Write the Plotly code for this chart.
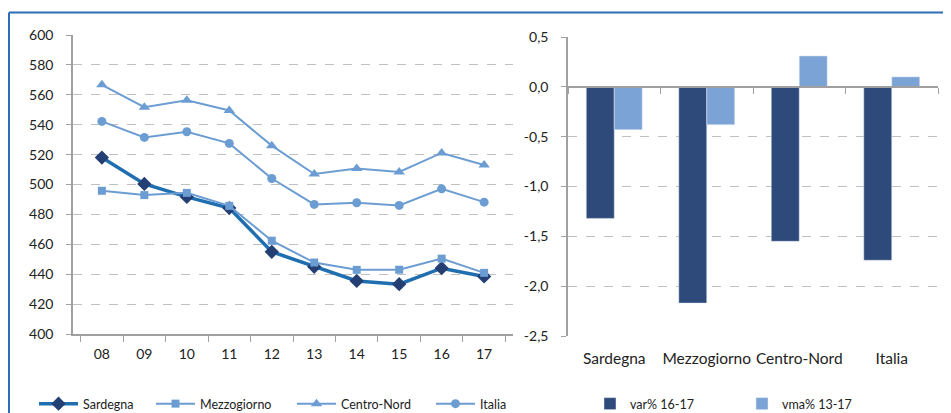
import plotly.graph_objects as go

anni = ["08", "09", "10", "11", "12", "13", "14", "15", "16", "17"]
sardegna = [518, 500.4, 491.7, 484.2, 455, 445, 435.5, 433.3, 444, 438.5]
mezzogiorno = [495.8, 492.9, 494.4, 485.7, 462.4, 447.8, 442.9, 443, 450.4, 440.9]
centro_nord = [566.7, 551.7, 556.4, 549.5, 526, 507, 510.7, 508.4, 521.1, 513.1]
italia = [542.2, 531.5, 535.3, 527.5, 504, 486.7, 487.8, 486, 497.1, 488.2]

aree = ["Sardegna", "Mezzogiorno", "Centro-Nord", "Italia"]
var_16_17 = [-1.32, -2.17, -1.55, -1.74]
vma_13_17 = [-0.43, -0.38, 0.31, 0.1]

y2_vals = [0.5, 0.0, -0.5, -1.0, -1.5, -2.0, -2.5]
y2_text = ["0,5", "0,0", "-0,5", "-1,0", "-1,5", "-2,0", "-2,5"]

# the page body adds an 8px margin, so the figure is drawn 8px smaller
OFF = 8
W, H = 951 - OFF, 413 - OFF
FONT = "Lato, Carlito, Calibri, sans-serif"
LIGHT = "#6c9dd2"
GRID = "#c0c0c0"
AXIS = "#a0a0a0"


def px_x(v):
    return (v - OFF) / W


def px_y(v):
    return (H - (v - OFF)) / H


fig = go.Figure()

fig.add_trace(go.Scatter(
    x=anni, y=sardegna, name="Sardegna", mode="lines+markers",
    line=dict(color="#1f6eb0", width=3.5),
    marker=dict(symbol="diamond", size=11, color="#243f73"),
    legend="legend",
))
fig.add_trace(go.Scatter(
    x=anni, y=mezzogiorno, name="Mezzogiorno", mode="lines+markers",
    line=dict(color=LIGHT, width=2),
    marker=dict(symbol="square", size=8, color=LIGHT),
    legend="legend2",
))
fig.add_trace(go.Scatter(
    x=anni, y=centro_nord, name="Centro-Nord", mode="lines+markers",
    line=dict(color=LIGHT, width=2),
    marker=dict(symbol="triangle-up", size=10, color=LIGHT),
    legend="legend3",
))
fig.add_trace(go.Scatter(
    x=anni, y=italia, name="Italia", mode="lines+markers",
    line=dict(color=LIGHT, width=2),
    marker=dict(symbol="circle", size=9, color=LIGHT),
    legend="legend4",
))

fig.add_trace(go.Bar(
    x=aree, y=var_16_17, name="var% 16-17", marker_color="#2e4a7a",
    xaxis="x2", yaxis="y2", legend="legend5",
))
fig.add_trace(go.Bar(
    x=aree, y=vma_13_17, name="vma% 13-17", marker_color="#7ba3d6",
    xaxis="x2", yaxis="y2", legend="legend6",
))

# frame
fig.add_shape(type="line", xref="paper", yref="paper",
              x0=px_x(9), x1=1, y0=px_y(12.5), y1=px_y(12.5),
              line=dict(color="#2f6db5", width=2))
fig.add_shape(type="line", xref="paper", yref="paper",
              x0=px_x(9), x1=px_x(9), y0=0, y1=px_y(12.5),
              line=dict(color="#2f6db5", width=2))

legend_pos = [34, 151, 292, 431, 590, 742]
legends = {}
for i, xp in enumerate(legend_pos):
    key = "legend" if i == 0 else f"legend{i + 1}"
    legends[key] = dict(
        xref="container", yref="container",
        x=px_x(xp), y=px_y(404), xanchor="left", yanchor="middle",
        orientation="h", bgcolor="rgba(0,0,0,0)",
        font=dict(family=FONT, size=12.5, color="#222"),
        itemwidth=39 if i < 4 else 30,
        borderwidth=0,
    )

fig.update_layout(
    width=W, height=H,
    margin=dict(l=0, r=0, t=0, b=0, autoexpand=False),
    paper_bgcolor="white", plot_bgcolor="white",
    font=dict(family=FONT, size=14, color="#222"),
    barmode="group", bargap=0.395, bargroupgap=0,
    separators=",.",
    showlegend=True,
    xaxis=dict(
        domain=[px_x(73), px_x(513)], type="category", automargin=False,
        showline=True, linecolor=AXIS, linewidth=1.5,
        ticks="outside", tickson="boundaries", ticklen=6, tickcolor=AXIS,
        showgrid=False, ticklabelstandoff=6,
    ),
    yaxis=dict(
        domain=[px_y(334), px_y(35)], range=[400, 600], dtick=20,
        automargin=False,
        showline=True, linecolor=AXIS, linewidth=1.5,
        ticks="outside", ticklen=5, tickcolor=AXIS,
        showgrid=True, gridcolor=GRID, griddash="dash", gridwidth=1,
        zeroline=False, ticklabelstandoff=10,
    ),
    xaxis2=dict(
        domain=[px_x(568), px_x(938)], type="category", automargin=False,
        anchor="free", position=px_y(87),
        showline=True, linecolor=AXIS, linewidth=1.5,
        ticks="outside", tickson="boundaries", ticklen=6, tickcolor=AXIS,
        showgrid=False, ticklabelstandoff=258, tickangle=0,
        tickfont=dict(size=15.5),
    ),
    yaxis2=dict(
        domain=[px_y(336), px_y(37)], range=[-2.5, 0.5], automargin=False,
        tickvals=y2_vals, ticktext=y2_text, anchor="x2",
        showline=True, linecolor=AXIS, linewidth=1.5,
        ticks="outside", ticklen=5, tickcolor=AXIS,
        showgrid=True, gridcolor=GRID, griddash="dash", gridwidth=1,
        zeroline=False, ticklabelstandoff=10,
    ),
    **legends,
)

fig.write_html("out.html")
